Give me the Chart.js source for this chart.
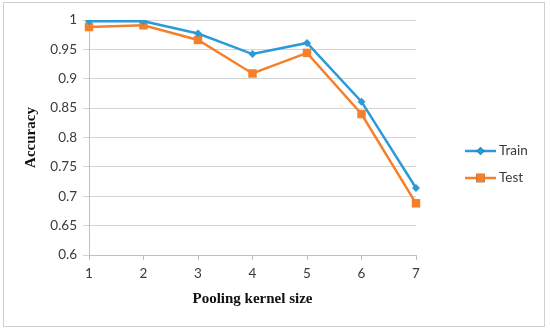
<!DOCTYPE html>
<html>
<head>
<meta charset="utf-8">
<script src="https://cdn.jsdelivr.net/npm/chart.js@4/dist/chart.umd.min.js"></script>
<style>
  html, body { margin: 0; padding: 0; background: #fff; }
  #wrap { position: relative; width: 550px; height: 332px; }
</style>
</head>
<body>
<div id="wrap"><canvas id="chart" width="550" height="332"></canvas></div>
<script>
(function () {
  "use strict";

  // values
  const kernelSizes = ["1", "2", "3", "4", "5", "6", "7"];
  const trainAcc = [0.998, 0.998, 0.977, 0.942, 0.961, 0.861, 0.714];
  const testAcc = [0.988, 0.991, 0.966, 0.909, 0.944, 0.840, 0.688];
  const seriesNames = ["Train", "Test"];

  const BLUE = "#2a9ad8";
  const ORANGE = "#f6802a";
  const GRID = "#d4d4d4";
  const TXT = "#3a3a3a";

  // line + marker legend on the right, like the office style
  const sideLegend = {
    id: "sideLegend",
    beforeDraw(chart) {
      const ctx = chart.ctx;
      ctx.save();
      ctx.strokeStyle = "#d0d0d0";
      ctx.lineWidth = 1;
      ctx.strokeRect(3.5, 2.5, 541, 324);
      ctx.restore();
    },
    afterDraw(chart) {
      const ctx = chart.ctx;
      const rows = [151, 178];
      ctx.save();
      chart.data.datasets.forEach(function (ds, i) {
        const y = rows[i];
        ctx.strokeStyle = ds.borderColor;
        ctx.lineWidth = 2.5;
        ctx.beginPath();
        ctx.moveTo(465, y);
        ctx.lineTo(496, y);
        ctx.stroke();
        Chart.helpers.drawPoint(ctx, {
          pointStyle: ds.pointStyle,
          radius: ds.pointRadius,
          borderWidth: 0
        }, 480.5, y);
        ctx.fillStyle = ds.pointBackgroundColor;
        ctx.fill();
        ctx.fillStyle = TXT;
        ctx.font = "13.5px Lato";
        ctx.textBaseline = "middle";
        ctx.fillText(ds.label, 499, y);
      });
      ctx.restore();
    }
  };

  new Chart(document.getElementById("chart"), {
    type: "line",
    data: {
      labels: kernelSizes,
      datasets: [
        {
          label: seriesNames[0],
          data: trainAcc,
          borderColor: BLUE,
          backgroundColor: BLUE,
          pointBackgroundColor: BLUE,
          pointBorderWidth: 0,
          pointStyle: "rectRot",
          pointRadius: 4,
          borderWidth: 2.5,
          tension: 0
        },
        {
          label: seriesNames[1],
          data: testAcc,
          borderColor: ORANGE,
          backgroundColor: ORANGE,
          pointBackgroundColor: ORANGE,
          pointBorderWidth: 0,
          pointStyle: "rect",
          pointRadius: 6,
          borderWidth: 2.5,
          tension: 0
        }
      ]
    },
    options: {
      responsive: false,
      animation: false,
      layout: { padding: { left: 18, right: 134, top: 20, bottom: 20 } },
      plugins: { legend: { display: false }, tooltip: { enabled: false } },
      scales: {
        x: {
          type: "category",
          offset: false,
          grid: { drawOnChartArea: false, drawTicks: true, tickLength: 5, color: "#bfbfbf" },
          border: { color: "#bfbfbf" },
          ticks: { color: TXT, font: { family: "Lato", size: 13.5 }, padding: 6 },
          title: {
            display: true,
            text: "Pooling kernel size",
            color: "#111",
            font: { family: "Liberation Serif", size: 15, weight: "bold" },
            padding: { top: 4, bottom: 4 }
          },
          afterFit: function (s) { s.height = 57; }
        },
        y: {
          min: 0.6,
          max: 1,
          grid: { color: GRID, tickLength: 6, lineWidth: 1 },
          border: { color: "#bfbfbf" },
          ticks: {
            stepSize: 0.05,
            color: TXT,
            font: { family: "Lato", size: 13.5 },
            padding: 6,
            callback: function (v) { return String(Math.round(v * 100) / 100); }
          },
          title: {
            display: true,
            text: "Accuracy",
            color: "#111",
            font: { family: "Liberation Serif", size: 15, weight: "bold" },
            padding: { top: 4, bottom: 4 }
          },
          afterFit: function (s) { s.width = 71; }
        }
      }
    },
    plugins: [sideLegend]
  });
})();
</script>
</body>
</html>
